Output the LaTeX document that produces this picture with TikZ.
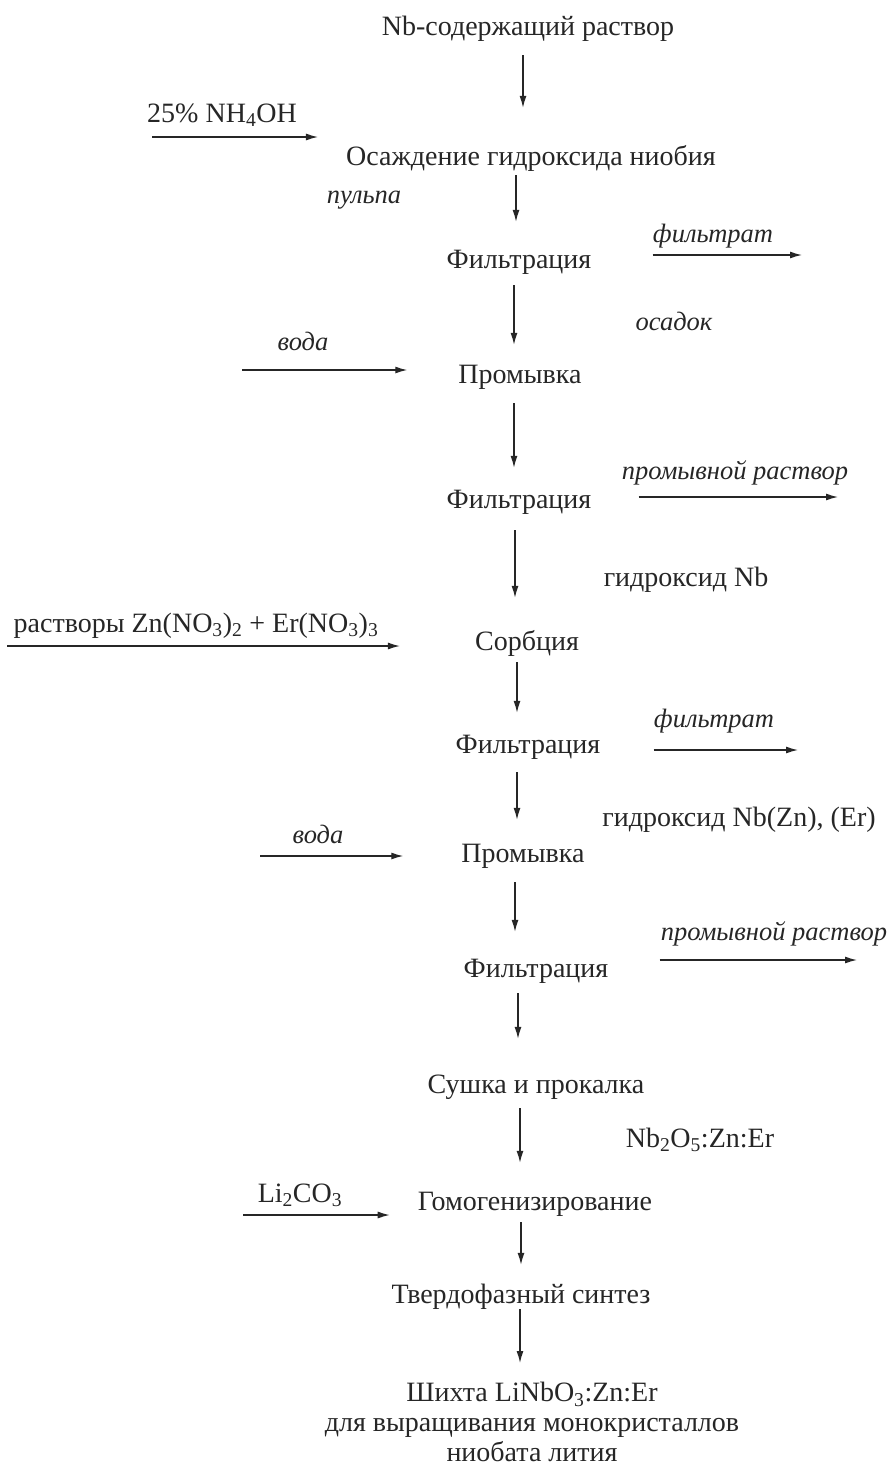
\documentclass[tikz,border=0pt]{standalone}
\usepackage{fontspec}
\setmainfont{Liberation Serif}
\usetikzlibrary{arrows.meta}
\definecolor{ink}{gray}{0.15}
\tikzstyle{proc}=[ink,anchor=base,inner sep=0pt,text height=19pt,text depth=6pt,font=\fontsize{28}{33}\selectfont]
\tikzstyle{note}=[proc,font=\fontsize{26.5}{31}\selectfont\itshape]
\tikzstyle{last}=[ink,anchor=north,inner sep=0pt,align=center,font=\fontsize{28}{30}\selectfont]
\tikzstyle{flow}=[ink,line width=1.3pt,-{Latex[length=12pt,width=7pt]}]

\begin{document}
\begin{tikzpicture}[x=1pt,y=-1pt]
\useasboundingbox (0,0) rectangle (890,1465);
% main column
\node[proc] (nb) at (528,35) {Nb-содержащий раствор};
\node[proc] (osazh) at (531,165) {Осаждение гидроксида ниобия};
\node[proc] (filt1) at (519,268) {Фильтрация};
\node[proc] (prom1) at (520,383) {Промывка};
\node[proc] (filt2) at (519,508) {Фильтрация};
\node[proc] (sorb) at (527,650) {Сорбция};
\node[proc] (filt3) at (528,753) {Фильтрация};
\node[proc] (prom2) at (523,862) {Промывка};
\node[proc] (filt4) at (536,977) {Фильтрация};
\node[proc] (sush) at (536,1093) {Сушка и прокалка};
\node[proc] (gomog) at (535,1210) {Гомогенизирование};
\node[proc] (tverd) at (521,1303) {Твердофазный синтез};
\node[last] (shihta) at (532,1382) {Шихта LiNbO\textsubscript{3}:Zn:Er\\для выращивания монокристаллов\\ниобата лития};
\foreach \a/\b/\x/\s/\e in {nb/osazh/523/14/38, osazh/filt1/516/4/27, filt1/prom1/514/11/19,
    prom1/filt2/514/14/21, filt2/sorb/515/16/33, sorb/filt3/517/6/21, filt3/prom2/517/13/23,
    prom2/filt4/515/14/26, filt4/sush/518/10/35, sush/gomog/520/9/28, gomog/tverd/521/6/19,
    tverd/shihta/520/0/19}
  \draw[flow,shorten <=\s pt,shorten >=\e pt] (\a.south -| \x,0) -- (\b.north -| \x,0);
% inputs
\foreach \c/\n/\x/\y/\s in {in1/osazh/152/137/28, in2/prom1/242/370/51, in3/sorb/7/646/75, in4/prom2/260/856/58, in5/gomog/243/1215/28} {
  \coordinate (\c) at (\x,\y);
  \draw[flow,shorten >=\s pt] (\c) -- (\c -| \n.west);}
% outputs
\foreach \c/\n/\x/\y/\s in {out1/filt1/802/255/61, out2/filt2/838/497/47, out3/filt3/798/750/53, out4/filt4/857/960/51} {
  \coordinate (\c) at (\x,\y);
  \draw[flow,shorten <=\s pt] (\c -| \n.east) -- (\c);}
% labels
\node[proc] (nh) at (222,122) {25\% NH\textsubscript{4}OH};
\node[note] (pulp) at (364,203) {пульпа};
\node[note] (filtrat1) at (713,242) {фильтрат};
\node[note] (osadok) at (674,330) {осадок};
\node[note] (voda1) at (303,350) {вода};
\node[note] (promr1) at (735,479) {промывной раствор};
\node[proc] (gidr1) at (686,586) {гидроксид Nb};
\node[proc] (rastv) at (196,632) {растворы Zn(NO\textsubscript{3})\textsubscript{2} + Er(NO\textsubscript{3})\textsubscript{3}};
\node[note] (filtrat2) at (714,727) {фильтрат};
\node[proc] (gidr2) at (739,826) {гидроксид Nb(Zn), (Er)};
\node[note] (voda2) at (318,843) {вода};
\node[note] (promr2) at (774,940) {промывной раствор};
\node[proc] (nbo) at (700,1147) {Nb\textsubscript{2}O\textsubscript{5}:Zn:Er};
\node[proc] (lico) at (300,1202) {Li\textsubscript{2}CO\textsubscript{3}};
\end{tikzpicture}
\end{document}
